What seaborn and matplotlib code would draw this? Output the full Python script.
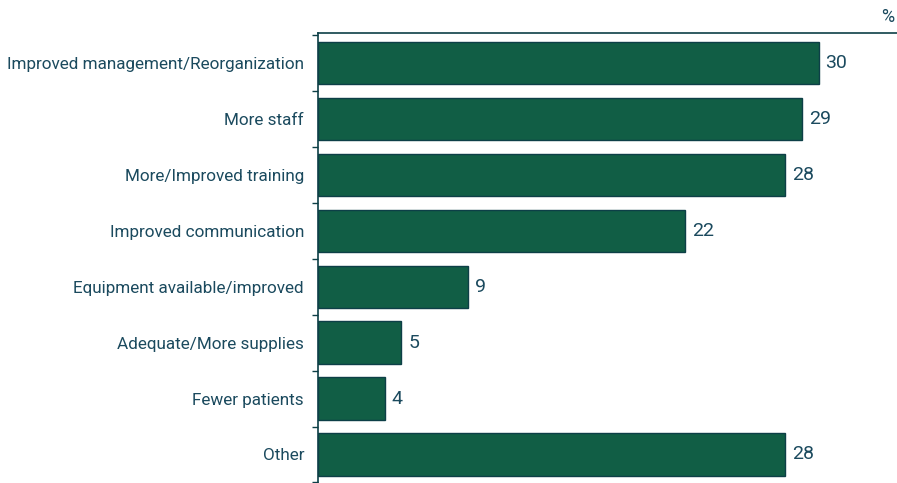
import matplotlib
matplotlib.use("Agg")
import matplotlib.pyplot as plt
import seaborn as sns
import pandas as pd
import numpy as np

categories = [
    "Improved management/Reorganization",
    "More staff",
    "More/Improved training",
    "Improved communication",
    "Equipment available/improved",
    "Adequate/More supplies",
    "Fewer patients",
    "Other",
]
values = [30, 29, 28, 22, 9, 5, 4, 28]

BAR = "#115e45"
EDGE = "#0d3f47"
TEXT = "#1b4a5e"

sns.set_theme(style="white")
plt.rcParams["font.family"] = ["Roboto", "DejaVu Sans"]

df = pd.DataFrame({"category": categories, "value": values})

fig = plt.figure(figsize=(8.97, 4.83), dpi=100)
ax = fig.add_axes([318 / 897, 0.0, 1 - 318 / 897, 450 / 483])

sns.barplot(data=df, y="category", x="value", orient="h", color=BAR,
            saturation=1, width=0.76, edgecolor=EDGE, linewidth=1.0, ax=ax)

ax.set_xlim(0, 34.7)
ax.set_ylim(len(categories) - 0.5 + 0.01, -0.5 - 0.04)
ax.set_xlabel("")
ax.set_ylabel("")
ax.set_xticks([])

ax.tick_params(axis="y", which="major", length=0, pad=10,
               labelsize=12.3, labelcolor=TEXT)
ax.set_yticks(np.arange(-0.5, len(categories), 1.0), minor=True)
ax.tick_params(axis="y", which="minor", left=True, length=4, width=1.0,
               color=EDGE, direction="out")

for side in ["right", "bottom"]:
    ax.spines[side].set_visible(False)
for side in ["left", "top"]:
    ax.spines[side].set_color(EDGE)
    ax.spines[side].set_linewidth(1.2)

for c in ax.containers:
    ax.bar_label(c, labels=[str(v) for v in values], padding=5,
                 fontsize=14, color=TEXT)

fig.text(0.997, 0.965, "%", ha="right", va="center", fontsize=13, color=TEXT)

fig.savefig("out.png", dpi=100)
